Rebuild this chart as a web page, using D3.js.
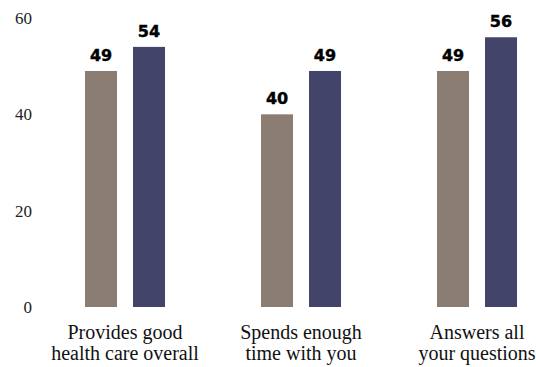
<!DOCTYPE html>
<html>
<head>
<meta charset="utf-8">
<script src="https://cdn.jsdelivr.net/npm/d3@7"></script>
<style>
  html, body { margin: 0; padding: 0; background: #fff; }
  svg { display: block; }
  .tick-label { font-family: "Liberation Serif", "DejaVu Serif", serif; font-variant-numeric: oldstyle-nums; fill: #222; }
  .cat-label { font-family: "Liberation Serif", "DejaVu Serif", serif; fill: #111; }
  .val-label { font-family: "DejaVu Sans", "Liberation Sans", sans-serif; font-weight: bold; fill: #000; }
</style>
</head>
<body>
<svg id="chart" width="536" height="367"></svg>
<script>
// Survey items and the two series shown for each
const categories = [
  ["Provides good", "health care overall"],
  ["Spends enough", "time with you"],
  ["Answers all", "your questions"]
];
const seriesNames = ["first", "second"];
const seriesA = [49, 40, 49];
const seriesB = [54, 49, 56];
const yTicks = [0, 20, 40, 60];
const colors = ["#8b7d72", "#424569"];

const svg = d3.select("#chart");
const catKeys = categories.map(c => c.join(" "));

const y = d3.scaleLinear().domain([0, 60]).range([307, 18]);
const x = d3.scalePoint().domain(catKeys).range([125, 477]);
const xs = d3.scaleBand().domain(seriesNames).range([-40, 40]).paddingInner(1 / 3).paddingOuter(0);
const color = d3.scaleOrdinal().domain(seriesNames).range(colors);

// Y axis: labels only, no line or tick marks
const yAxis = d3.axisLeft(y).tickValues(yTicks).tickSize(0).tickPadding(0);
const gy = svg.append("g").attr("transform", "translate(32,0)").call(yAxis);
gy.select(".domain").remove();
gy.selectAll("text")
  .attr("class", "tick-label")
  .attr("font-size", 17)
  .attr("dy", "0.32em");

const rows = catKeys.map((k, i) => ({ key: k, values: [seriesA[i], seriesB[i]] }));

const groups = svg.append("g").selectAll("g")
  .data(rows).join("g")
  .attr("transform", d => `translate(${x(d.key)},0)`);

const bars = groups.selectAll("g")
  .data(d => d.values.map((v, j) => ({ s: seriesNames[j], v })))
  .join("g");

bars.append("rect")
  .attr("x", d => xs(d.s))
  .attr("width", xs.bandwidth())
  .attr("y", d => y(d.v))
  .attr("height", d => y(0) - y(d.v))
  .attr("fill", d => color(d.s));

bars.append("text")
  .attr("class", "val-label")
  .attr("x", d => xs(d.s) + xs.bandwidth() / 2)
  .attr("y", d => y(d.v) - 10)
  .attr("text-anchor", "middle")
  .attr("font-size", 16)
  .attr("stroke", "#000")
  .attr("stroke-width", 0.4)
  .text(d => d.v);

// Category labels, two lines each
const cats = svg.append("g").selectAll("text")
  .data(categories).join("text")
  .attr("class", "cat-label")
  .attr("font-size", 20)
  .attr("text-anchor", "middle")
  .attr("x", (d, i) => x(catKeys[i]));
cats.selectAll("tspan")
  .data(d => d).join("tspan")
  .attr("x", function () { return d3.select(this.parentNode).attr("x"); })
  .attr("y", (d, i) => 339 + i * 21)
  .text(d => d);
</script>
</body>
</html>
